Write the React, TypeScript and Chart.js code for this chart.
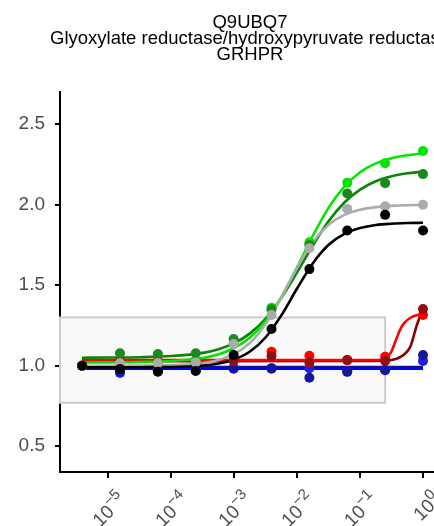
import React, { useEffect, useRef } from "react";
import { Chart, registerables } from "chart.js";

Chart.register(...registerables);

const titleLines = ["Q9UBQ7", "Glyoxylate reductase/hydroxypyruvate reductase", "GRHPR"];

const concentrations = [3.8147e-6, 1.5259e-5, 6.1035e-5, 2.4414e-4, 9.7656e-4, 3.9063e-3, 1.5625e-2, 6.25e-2, 0.25, 1];

const brightGreenPoints = [1.0, 1.015, 1.02, 1.03, 1.14, 1.36, 1.767, 2.137, 2.258, 2.334];
const darkGreenPoints = [1.0, 1.077, 1.073, 1.077, 1.166, 1.35, 1.75, 2.07, 2.134, 2.19];
const greyPoints = [1.0, 1.015, 1.015, 1.02, 1.135, 1.315, 1.73, 1.974, 1.99, 2.0];
const blackPoints = [1.0, 0.98, 0.963, 0.967, 1.066, 1.228, 1.6, 1.84, 1.937, 1.84];
const redPoints = [1.0, 1.03, 1.03, 1.03, 1.035, 1.087, 1.062, 1.035, 1.056, 1.315];
const darkRedPoints = [1.0, 1.02, 1.02, 1.02, 1.03, 1.06, 1.019, 1.035, 1.03, 1.352];
const bluePoints = [1.0, 0.955, 0.965, 0.97, 0.982, 0.982, 0.985, 0.965, 0.975, 1.03];
const navyPoints = [1.0, 0.965, 0.97, 0.975, 0.985, 0.985, 0.925, 0.962, 0.972, 1.066];

const curveExponents = [-5.42, -5, -4.5, -4, -3.5, -3.25, -3, -2.75, -2.5, -2.25, -2, -1.75, -1.5, -1.25, -1, -0.75, -0.5, -0.25, 0];
const brightGreenCurve = [1.02, 1.021, 1.023, 1.029, 1.048, 1.071, 1.11, 1.175, 1.279, 1.427, 1.612, 1.808, 1.982, 2.113, 2.202, 2.257, 2.289, 2.307, 2.318];
const darkGreenCurve = [1.05, 1.051, 1.053, 1.06, 1.08, 1.102, 1.14, 1.201, 1.293, 1.423, 1.581, 1.748, 1.898, 2.014, 2.094, 2.146, 2.177, 2.195, 2.206];
const greyCurve = [1.0, 1.0, 1.001, 1.004, 1.017, 1.036, 1.073, 1.142, 1.26, 1.426, 1.611, 1.768, 1.875, 1.937, 1.969, 1.985, 1.993, 1.997, 1.998];
const blackCurve = [0.99, 0.99, 0.991, 0.992, 1.001, 1.014, 1.039, 1.088, 1.177, 1.314, 1.481, 1.637, 1.751, 1.819, 1.855, 1.874, 1.882, 1.886, 1.888];

const steepCurveExponents = [-5.42, -0.75, -0.65, -0.6, -0.55, -0.5, -0.45, -0.4, -0.35, -0.3, -0.2, -0.1, 0];
const redCurve = [1.035, 1.035, 1.037, 1.042, 1.06, 1.09, 1.14, 1.19, 1.235, 1.265, 1.298, 1.314, 1.322];
const darkRedCurve = [1.028, 1.03, 1.031, 1.032, 1.034, 1.036, 1.04, 1.046, 1.056, 1.07, 1.12, 1.25, 1.355];

const flatCurveExponents = [-5.42, 0];
const blueCurve = [0.982, 0.982];
const navyCurve = [0.992, 0.992];

const yTicks = [0.5, 1.0, 1.5, 2.0, 2.5];
const xTickExponents = [-5, -4, -3, -2, -1, 0];
const xRangeExponents = [-5.77, 0.27];
const yRange = [0.34, 2.7];

const boxXMax = 0.25;
const boxYRange = [0.77, 1.3];

const FONT = '"Liberation Sans", Arial, Helvetica, sans-serif';

export default function App() {
  const ref = useRef<HTMLCanvasElement>(null);

  useEffect(() => {
    const canvas = ref.current;
    if (!canvas) return;

    const pts = (vals: number[], color: string, order: number) => ({
      data: concentrations.map((c, i) => ({ x: c, y: vals[i] })),
      showLine: false,
      pointRadius: 5,
      pointHoverRadius: 5,
      pointBackgroundColor: color,
      pointBorderColor: color,
      pointBorderWidth: 0,
      order,
    });
    const curve = (exps: number[], vals: number[], color: string, order: number) => ({
      data: exps.map((e, i) => ({ x: Math.pow(10, e), y: vals[i] })),
      showLine: true,
      pointRadius: 0,
      pointHoverRadius: 0,
      borderColor: color,
      backgroundColor: color,
      borderWidth: 2.6,
      cubicInterpolationMode: "monotone",
      fill: false,
      order,
    });

    const datasets: any[] = [
      pts(blackPoints, "#000000", 0),
      pts(greyPoints, "#ABABAB", 1),
      pts(darkGreenPoints, "#1A8A1A", 2),
      pts(brightGreenPoints, "#00E600", 3),
      pts(darkRedPoints, "#8E1212", 4),
      pts(redPoints, "#FF0000", 5),
      pts(navyPoints, "#16169A", 6),
      pts(bluePoints, "#1E1EE6", 7),
      curve(curveExponents, blackCurve, "#000000", 10),
      curve(curveExponents, greyCurve, "#ABABAB", 11),
      curve(curveExponents, brightGreenCurve, "#00E600", 12),
      curve(curveExponents, darkGreenCurve, "#0A850A", 13),
      curve(steepCurveExponents, redCurve, "#FF0000", 14),
      curve(steepCurveExponents, darkRedCurve, "#8B0000", 15),
      curve(flatCurveExponents, blueCurve, "#0000FF", 16),
      curve(flatCurveExponents, navyCurve, "#10108C", 17),
    ];

    const boxPlugin = {
      id: "shadedBox",
      beforeDatasetsDraw(chart: any) {
        const { ctx, chartArea, scales } = chart;
        const x0 = chartArea.left;
        const x1 = scales.x.getPixelForValue(boxXMax);
        const yTop = scales.y.getPixelForValue(boxYRange[1]);
        const yBot = scales.y.getPixelForValue(boxYRange[0]);
        ctx.save();
        ctx.fillStyle = "#F9F9F9";
        ctx.fillRect(x0, yTop, x1 - x0, yBot - yTop);
        ctx.strokeStyle = "#CBCBCB";
        ctx.lineWidth = 2;
        ctx.strokeRect(x0, yTop, x1 - x0, yBot - yTop);
        ctx.restore();
      },
    };

    const titlePlugin = {
      id: "titleLines",
      afterDraw(chart: any) {
        const { ctx, chartArea } = chart;
        const cx = (chartArea.left + chartArea.right) / 2;
        ctx.save();
        ctx.fillStyle = "#000000";
        ctx.font = `18.5px ${FONT}`;
        ctx.textAlign = "center";
        ctx.textBaseline = "alphabetic";
        const baselines = [27.5, 43.5, 59.5];
        titleLines.forEach((t, i) => ctx.fillText(t, cx, baselines[i]));
        ctx.restore();
      },
    };

    const xLabelPlugin = {
      id: "xLabels",
      afterDraw(chart: any) {
        const { ctx, chartArea, scales } = chart;
        ctx.save();
        ctx.fillStyle = "#4D4D4D";
        ctx.textBaseline = "alphabetic";
        ctx.textAlign = "left";
        xTickExponents.forEach((e) => {
          const px = scales.x.getPixelForValue(Math.pow(10, e));
          const base = "10";
          const sup = e < 0 ? "\u2212" + Math.abs(e) : String(e);
          ctx.font = `19px ${FONT}`;
          const wb = ctx.measureText(base).width;
          ctx.font = `15px ${FONT}`;
          const ws = ctx.measureText(sup).width;
          ctx.translate(px + 5, chartArea.bottom + 15);
          ctx.rotate(-Math.PI / 4);
          const by = 19.5;
          ctx.font = `19px ${FONT}`;
          ctx.fillText(base, -(wb + ws), by);
          ctx.font = `15px ${FONT}`;
          ctx.fillText(sup, -ws, by - 8.5);
          ctx.setTransform(1, 0, 0, 1, 0, 0);
        });
        ctx.restore();
      },
    };

    const chart = new Chart(canvas, {
      type: "scatter",
      data: { datasets },
      options: {
        responsive: false,
        animation: false,
        devicePixelRatio: 1,
        layout: { padding: { top: 92, right: 20, left: 0, bottom: 0 } },
        plugins: {
          legend: { display: false },
          tooltip: { enabled: false },
          title: { display: false },
        },
        scales: {
          x: {
            type: "logarithmic",
            min: Math.pow(10, xRangeExponents[0]),
            max: Math.pow(10, xRangeExponents[1]),
            afterBuildTicks: (s: any) => {
              s.ticks = xTickExponents.map((e) => ({ value: Math.pow(10, e) }));
            },
            afterFit: (s: any) => {
              s.height = 54;
            },
            grid: { display: true, drawOnChartArea: false, drawTicks: true, tickLength: 6, color: "#000000", lineWidth: 2 },
            border: { display: true, color: "#000000", width: 2 },
            ticks: { display: false },
          },
          y: {
            type: "linear",
            min: yRange[0],
            max: yRange[1],
            afterBuildTicks: (s: any) => {
              s.ticks = yTicks.map((v) => ({ value: v }));
            },
            afterFit: (s: any) => {
              s.width = 60;
            },
            grid: { display: true, drawOnChartArea: false, drawTicks: true, tickLength: 5, color: "#000000", lineWidth: 2 },
            border: { display: true, color: "#000000", width: 2 },
            ticks: {
              color: "#4D4D4D",
              font: { size: 19, family: FONT },
              padding: 10,
              callback: (v: any) => Number(v).toFixed(1),
            },
          },
        },
      } as any,
      plugins: [boxPlugin, titlePlugin, xLabelPlugin],
    });

    return () => chart.destroy();
  }, []);

  return (
    <div style={{ position: "absolute", left: 0, top: 0, width: 434, height: 526, overflow: "hidden", background: "#ffffff" }}>
      <canvas ref={ref} width={460} height={526} style={{ display: "block", width: 460, height: 526 }} />
    </div>
  );
}
